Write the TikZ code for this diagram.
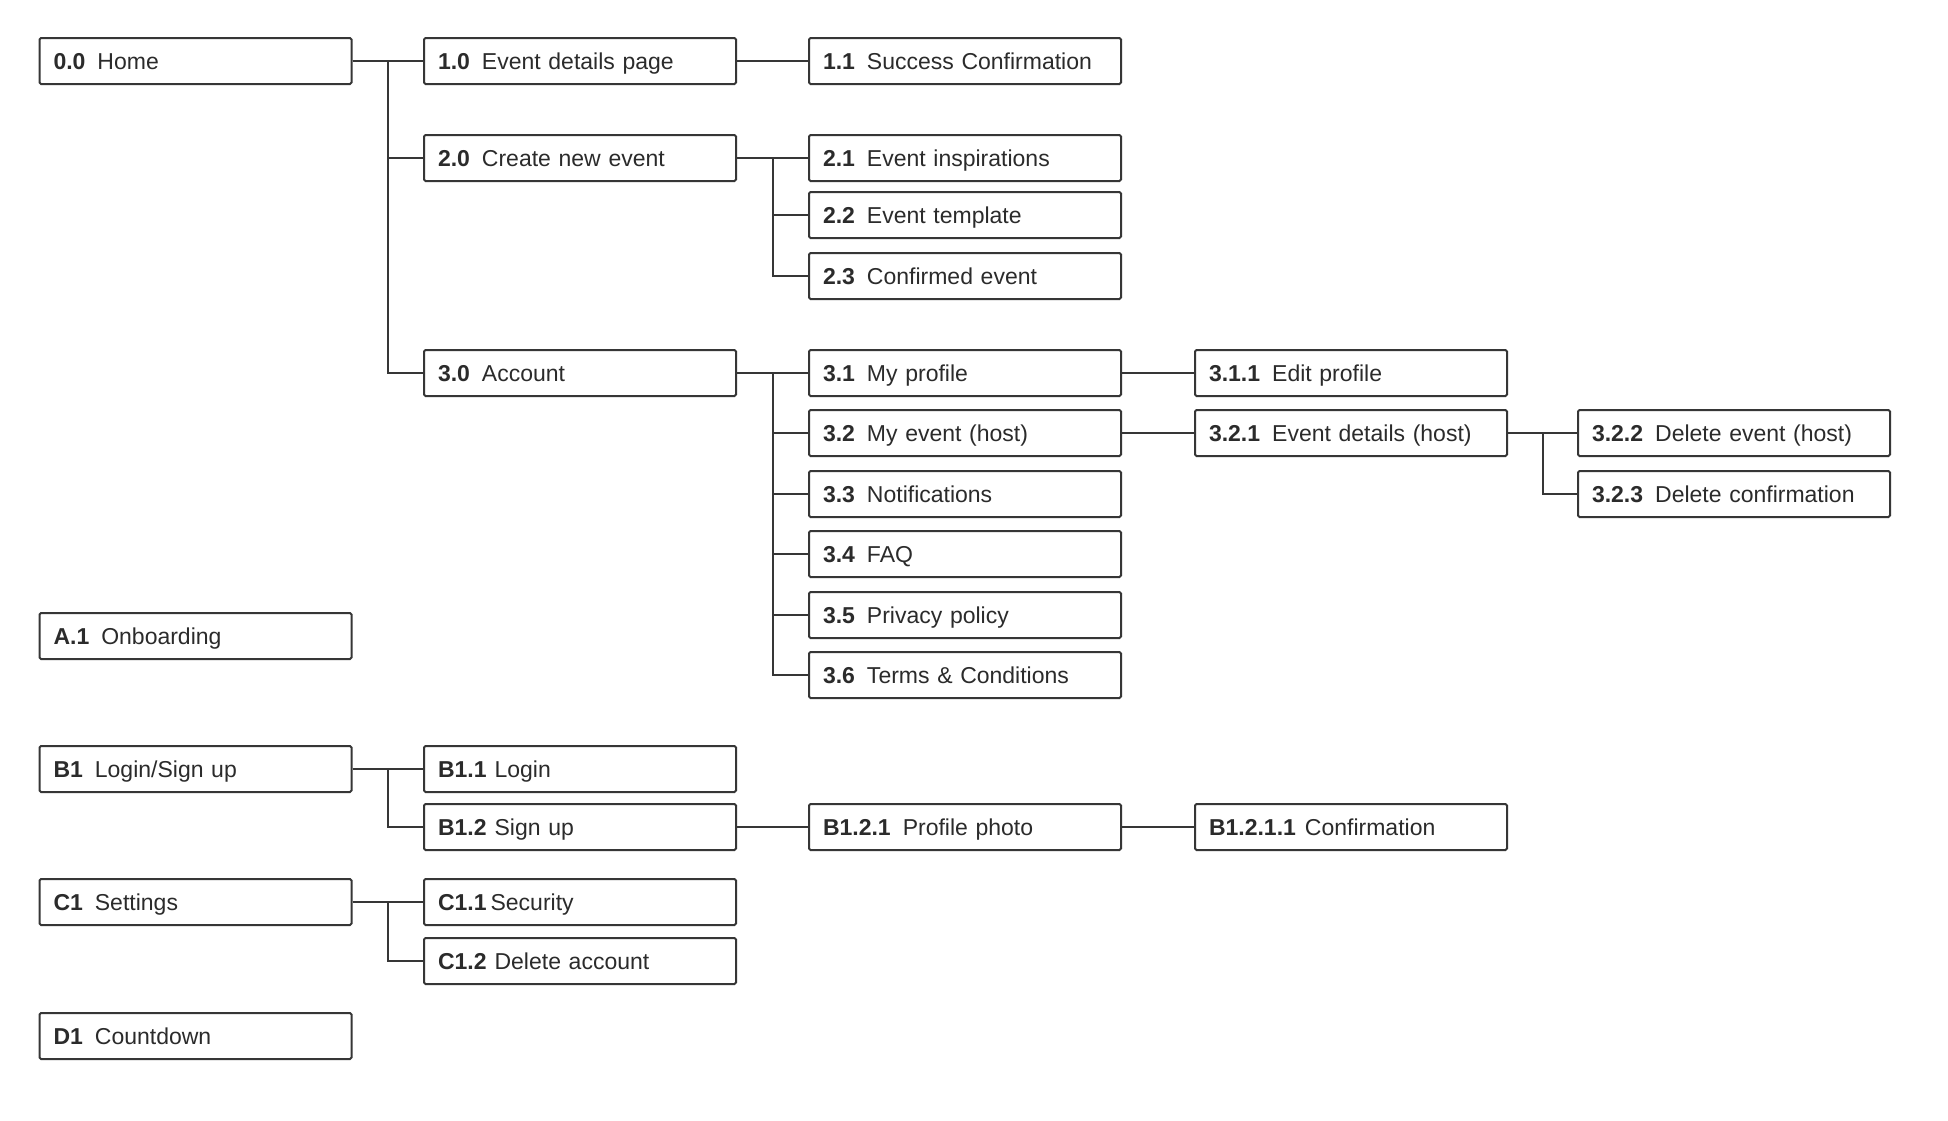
\documentclass[tikz,border=0pt]{standalone}
\usepackage{fontspec}
\setmainfont{Liberation Sans}
\usetikzlibrary{calc}
\definecolor{linegray}{HTML}{363636}
\definecolor{textgray}{HTML}{2B2B2B}
\newcommand\lbl[3][12pt]{\textbf{#2}\hspace{#1}#3}
\begin{document}
\begin{tikzpicture}[x=1pt,y=-1pt,
  pagebox/.style={draw=linegray, line width=2pt, rounded corners=1.5pt,
    text width=284pt, inner xsep=14pt, inner ysep=0pt, minimum height=46pt,
    text height=21pt, text depth=5pt,
    align=left, text=textgray, font=\fontsize{23}{27}\selectfont},
  link/.style={draw=linegray, line width=2pt}]
\useasboundingbox[fill=white] (0,0) rectangle (1948,1120);
\def\ca{195.5}\def\cb{580}\def\cc{965}\def\cd{1351}\def\ce{1734}
% column 1
\node[pagebox] (home)  at (\ca,61)   {\lbl{0.0}{Home}};
\node[pagebox] (onb)   at (\ca,636)  {\lbl{A.1}{Onboarding}};
\node[pagebox] (logsg) at (\ca,769)  {\lbl{B1}{Login/Sign up}};
\node[pagebox] (sett)  at (\ca,902)  {\lbl{C1}{Settings}};
\node[pagebox] (cdown) at (\ca,1036) {\lbl{D1}{Countdown}};
% column 2
\node[pagebox] (evd)   at (\cb,61)   {\lbl{1.0}{Event details page}};
\node[pagebox] (cre)   at (\cb,158)  {\lbl{2.0}{Create new event}};
\node[pagebox] (acc)   at (\cb,373)  {\lbl{3.0}{Account}};
\node[pagebox] (bla)   at (\cb,769)  {\lbl[8pt]{B1.1}{Login}};
\node[pagebox] (blb)   at (\cb,827)  {\lbl[8pt]{B1.2}{Sign up}};
\node[pagebox] (cla)   at (\cb,902)  {\lbl[4pt]{C1.1}{Security}};
\node[pagebox] (clb)   at (\cb,961)  {\lbl[8pt]{C1.2}{Delete account}};
% column 3
\node[pagebox] (succ)  at (\cc,61)   {\lbl{1.1}{Success Confirmation}};
\node[pagebox] (insp)  at (\cc,158)  {\lbl{2.1}{Event inspirations}};
\node[pagebox] (tmpl)  at (\cc,215)  {\lbl{2.2}{Event template}};
\node[pagebox] (conf)  at (\cc,276)  {\lbl{2.3}{Confirmed event}};
\node[pagebox] (prof)  at (\cc,373)  {\lbl{3.1}{My profile}};
\node[pagebox] (myev)  at (\cc,433)  {\lbl{3.2}{My event (host)}};
\node[pagebox] (notif) at (\cc,494)  {\lbl{3.3}{Notifications}};
\node[pagebox] (faq)   at (\cc,554)  {\lbl{3.4}{FAQ}};
\node[pagebox] (priv)  at (\cc,615)  {\lbl{3.5}{Privacy policy}};
\node[pagebox] (terms) at (\cc,675)  {\lbl{3.6}{Terms \& Conditions}};
\node[pagebox] (photo) at (\cc,827)  {\lbl{B1.2.1}{Profile photo}};
% column 4
\node[pagebox] (edit)  at (\cd,373)  {\lbl{3.1.1}{Edit profile}};
\node[pagebox] (evh)   at (\cd,433)  {\lbl{3.2.1}{Event details (host)}};
\node[pagebox] (pconf) at (\cd,827)  {\lbl[9pt]{B1.2.1.1}{Confirmation}};
% column 5
\node[pagebox] (delev) at (\ce,433)  {\lbl{3.2.2}{Delete event (host)}};
\node[pagebox] (delc)  at (\ce,494)  {\lbl{3.2.3}{Delete confirmation}};
% connectors
\foreach \p/\c in {home/evd, home/cre, home/acc, evd/succ,
    cre/insp, cre/tmpl, cre/conf,
    acc/prof, acc/myev, acc/notif, acc/faq, acc/priv, acc/terms,
    prof/edit, myev/evh, evh/delev, evh/delc,
    logsg/bla, logsg/blb, blb/photo, photo/pconf,
    sett/cla, sett/clb}
  \draw[link] (\p.east) -| ($(\p.east)!.5!(\c.west)$) |- (\c.west);
\end{tikzpicture}
\end{document}
